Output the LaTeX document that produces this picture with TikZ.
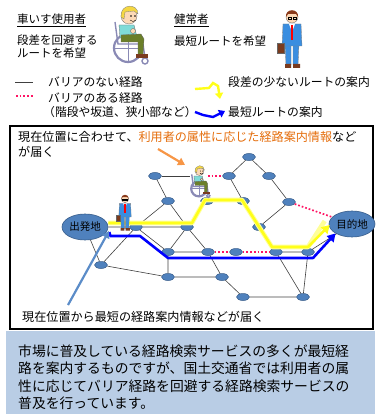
\documentclass[tikz,border=0pt]{standalone}
\usepackage{fontspec}
\setmainfont{Noto Sans CJK JP}
\usepackage{tikz}
\usetikzlibrary{arrows.meta,shapes.geometric}
\definecolor{stopblue}{HTML}{4F81BD}
\definecolor{stopedge}{HTML}{385D8A}
\definecolor{barrierpink}{HTML}{FF1464}
\definecolor{easyyellow}{HTML}{FFFF1A}
\definecolor{shortblue}{HTML}{0000FF}
\definecolor{hintblue}{HTML}{5B8CC8}
\definecolor{hintorange}{HTML}{F79646}
\definecolor{textorange}{HTML}{E46C0A}
\definecolor{boxblue}{HTML}{B9CDE5}
\definecolor{wheelgray}{HTML}{8A8AB5}
\definecolor{shirt}{HTML}{7FDBD8}
\definecolor{pants}{HTML}{6B7F2A}
\definecolor{skin}{HTML}{FCD9B6}
\definecolor{hair}{HTML}{F5D742}
\definecolor{suit}{HTML}{3A8EE0}
\definecolor{bag}{HTML}{7A3B1E}
\definecolor{darkhair}{HTML}{8B3A1A}

% wheelchair user, drawn round (0,0)
\newcommand{\wheeluser}{%
  \draw[line width=2.2pt,wheelgray,fill=white] (-2,14) circle (14);
  \draw[line width=0.5pt,wheelgray] (-2,0) -- (-2,28) (-16,14) -- (12,14);
  \draw[line width=1.4pt,wheelgray] (15,27) circle (3);
  \draw[line width=1.4pt,wheelgray] (-15,-12) -- (-12,10) -- (13,10) -- (15,24);
  \fill[shirt,draw=black!60,line width=0.3pt] (-11,-9) -- (4,-9) -- (7,3) -- (-10,4) -- cycle;
  \fill[pants,draw=black!60,line width=0.3pt] (-9,1) -- (11,0) -- (14,5) -- (13,21) -- (8,21) -- (8,8) -- (-9,8) -- cycle;
  \fill[bag] (6,20) rectangle (18,24);
  \fill[skin,draw=black!60,line width=0.3pt] (3,-3) circle (2.5);
  \fill[skin,draw=black!60,line width=0.3pt] (-1,-18) circle (8);
  \fill[hair,draw=black!50,line width=0.3pt] (-9,-17) .. controls (-10,-31) and (8,-31) .. (8,-20) -- (4,-23) -- (-5,-22) -- (-6,-15) -- cycle;
  \fill[black] (1,-18) circle (0.8) (5,-18) circle (0.8);
  \draw[black,line width=0.4pt] (0,-14) .. controls (2,-12) and (4,-12) .. (6,-14);
}
% man in a suit, drawn round (0,0)
\newcommand{\suitman}{%
  \fill[suit,draw=black!50,line width=0.3pt] (-7,6) -- (-1,6) -- (-1,27) -- (-6,27) -- cycle;
  \fill[suit,draw=black!50,line width=0.3pt] (1,6) -- (7,6) -- (6,27) -- (1,27) -- cycle;
  \fill[bag] (-7,26) rectangle (-1,30) (1,26) rectangle (8,30);
  \fill[suit,draw=black!50,line width=0.3pt] (-9,-14) -- (9,-14) -- (10,8) -- (-10,8) -- cycle;
  \fill[white] (-3,-14) -- (3,-14) -- (0,-6) -- cycle;
  \draw[red,line width=1.1pt] (0,-13) -- (0,2);
  \fill[bag,draw=black!60,line width=0.3pt] (-15,5) rectangle (-8,15);
  \fill[skin,draw=black!60,line width=0.3pt] (0,-21) circle (6);
  \fill[darkhair] (-6,-21) .. controls (-7,-30) and (7,-30) .. (6,-21) -- (4,-24) -- (-4,-24) -- cycle;
  \draw[black,line width=0.3pt] (-4,-21) rectangle (-1,-19) (1,-21) rectangle (4,-19);
}

\begin{document}
\begin{tikzpicture}[x=1pt,y=-1pt,
    stop/.style={ellipse,draw=stopedge,fill=stopblue,line width=0.5pt,minimum width=13pt,minimum height=7pt,inner sep=0pt},
    place/.style={ellipse,draw=stopedge,fill=stopblue,line width=0.6pt,minimum width=46pt,minimum height=26pt,inner sep=0pt,font=\fontsize{10.5}{12}\selectfont},
    road/.style={draw=black!75,line width=0.6pt},
    barrier/.style={draw=barrierpink,line width=1.7pt,dotted},
    easy/.style={draw=easyyellow,line width=2.6pt,-{Triangle[length=8pt,width=9pt]}},
    short/.style={draw=shortblue,line width=2.6pt,-{Triangle[length=8pt,width=9pt]}},
    hint/.style={line width=2.2pt,-{Triangle[length=7pt,width=8pt]}},
    txt/.style={anchor=base west,inner sep=0pt}]
  \useasboundingbox (0,0) rectangle (375,414);

  % who wants which route
  \node[txt,font=\fontsize{11.5}{13}\selectfont] at(17,23.4)(wheeltitle){\underline{車いす使用者}};
  \node[txt,font=\fontsize{11.5}{13.3}\selectfont,align=left] at(17,57.8)(wheelwish){段差を回避する\\ルートを希望};
  \node[txt,font=\fontsize{11.5}{13}\selectfont] at(174,23.4)(walktitle){\underline{健常者}};
  \node[txt,font=\fontsize{11.5}{13}\selectfont] at(174,45.4)(walkwish){最短ルートを希望};
  \begin{scope}[shift={(130,34)}]
    \wheeluser
  \end{scope}
  \begin{scope}[shift={(292,38)}]
    \suitman
  \end{scope}

  % legend
  \coordinate (k1a) at(15,82);
  \coordinate (k1b) at(33,82);
  \coordinate (k2a) at(16,96);
  \coordinate (k2b) at(33,96);
  \draw[road,line width=0.8pt] (k1a) -- (k1b);
  \draw[barrier] (k2a) -- (k2b);
  \node[txt,font=\fontsize{11.8}{13}\selectfont] at(48,86.5)(k1){バリアのない経路};
  \node[txt,font=\fontsize{11.8}{13}\selectfont] at(48,102.5)(k2){バリアのある経路};
  \node[txt,font=\fontsize{11.8}{13}\selectfont] at(43,116.5)(k2b){（階段や坂道、狭小部など）};
  \coordinate (k3a) at(195,89);
  \coordinate (k3b) at(220,99);
  \draw[easy,line width=2.4pt,-{Triangle[length=6pt,width=8pt]}] (k3a) -- (209,88) -- (213,83) -- (218,86) -- (k3b);
  \node[txt,font=\fontsize{11.8}{13}\selectfont] at(228,86.5)(k3){段差の少ないルートの案内};
  \coordinate (k4a) at(195,112);
  \coordinate (k4b) at(225,111);
  \draw[short,line width=2.4pt,-{Triangle[length=6pt,width=8pt]}] (k4a) -- (203,115) -- (213,117) -- (k4b);
  \node[txt,font=\fontsize{11.8}{13}\selectfont] at(228,116.5)(k4){最短ルートの案内};

  % map frame
  \draw[line width=1.6pt] (10,126) rectangle (373,329);
  \node[txt,font=\fontsize{12.1}{15}\selectfont,align=left] at(18,156.6)(topnote){現在位置に合わせて、\textcolor{textorange}{利用者の属性に応じた経路案内情報}など\\が届く};
  \node[txt,font=\fontsize{12.1}{15}\selectfont] at(22,321.6)(bottomnote){現在位置から最短の経路案内情報などが届く};

  % stops
  \node[place] at(85,227)(start){出発地};
  \node[place] at(352,224)(goal){目的地};
  \node[stop] at(155,176)(n1){};
  \node[stop] at(168,201)(n2){};
  \node[stop] at(136,227)(n3){};
  \node[stop] at(187,227)(n4){};
  \node[stop] at(168,252)(n5){};
  \node[stop] at(208,252)(n6){};
  \node[stop] at(101,265)(n7){};
  \node[stop] at(168,277)(n8){};
  \node[stop] at(249,157)(n9){};
  \node[stop] at(229,176)(n10){};
  \node[stop] at(269,176)(n11){};
  \node[stop] at(243,201)(n12){};
  \node[stop] at(289,202)(n13){};
  \node[stop] at(259,227)(n14){};
  \node[stop] at(236,252)(n15){};
  \node[stop] at(276,252)(n16){};
  \node[stop] at(308,252)(n17){};
  \node[stop] at(222,277)(n18){};
  \node[stop] at(243,297)(n19){};
  \node[stop] at(303,297)(n20){};
  \node[stop] at(207,201)(n21){};
  \coordinate (rider) at(200,176);

  % roads
  \draw[road] (start) -- (n3) -- (n4) (n1) -- (n2) -- (n3) (n2) -- (n4);
  \draw[road] (start) -- (n7) -- (n3) -- (n5) -- (n4) -- (n6) (n4) -- (n21) -- (n12);
  \draw[road] (n5) -- (n6) (n5) -- (n8) (n7) -- (n8) -- (n18) -- (n6) (n18) -- (n19) -- (n20) -- (n16) (n20) -- (n17);
  \draw[road] (n10) -- (n9) -- (n11) -- (n13) -- (n14) (n10) -- (n12) -- (n14) -- (n16) -- (n17) -- (goal);
  \draw[road] (n1) -- ([xshift=-10pt]rider);
  % roads with barriers
  \draw[barrier] ([xshift=8pt]rider) -- (n10);
  \draw[barrier] (n13) -- (goal);
  \draw[barrier] (n6) -- (n15) -- (n16);

  % suggested routes
  \draw[draw=easyyellow!45,line width=4.6pt,line join=round] ([yshift=4pt]start.east) -- ([xshift=5pt,yshift=4pt]n4.center) -- ([xshift=-2pt,yshift=1pt]n21.center) -- ([xshift=-1pt,yshift=1pt]n12.center) -- ([xshift=-4pt,yshift=5pt]n16.center) -- ([yshift=5pt]n17.center) -- ([xshift=-4pt,yshift=3pt]goal.west);
  \draw[easy,line join=round] ([yshift=4pt]start.east) -- ([xshift=5pt,yshift=4pt]n4.center) -- ([xshift=-2pt,yshift=1pt]n21.center) -- ([xshift=-1pt,yshift=1pt]n12.center) -- ([xshift=-4pt,yshift=5pt]n16.center) -- ([yshift=5pt]n17.center) -- ([xshift=1pt,yshift=-1pt]goal.west);
  \draw[short,line join=round] ([xshift=1pt,yshift=-5pt]start.east) -- ([xshift=2pt,yshift=-9pt]start.east) -- ([xshift=4pt,yshift=-9pt]n3.center) -- ([yshift=-6pt]n5.center) -- ([xshift=5pt,yshift=-6pt]n17.center) -- (goal.south west);

  % people on the map
  \begin{scope}[shift={(200,181)},scale=0.55]
    \wheeluser
  \end{scope}
  \begin{scope}[shift={(125,212)},scale=0.62]
    \suitman
  \end{scope}

  % pointers
  \coordinate (oa) at(158,149);
  \coordinate (ob) at(185,165);
  \draw[hint,hintorange] (oa) -- (ob);
  \coordinate (ba) at(68,305);
  \coordinate (bb) at(109,231);
  \draw[hint,hintblue] (ba) -- (bb);

  % summary box
  \fill[boxblue] (6,331) rectangle (375,414);
  \node[txt,font=\fontsize{13.8}{17.2}\selectfont,align=left] at(18,408.2)(summary){市場に普及している経路検索サービスの多くが最短経\\路を案内するものですが、国土交通省では利用者の属\\性に応じてバリア経路を回避する経路検索サービスの\\普及を行っています。};
\end{tikzpicture}
\end{document}
